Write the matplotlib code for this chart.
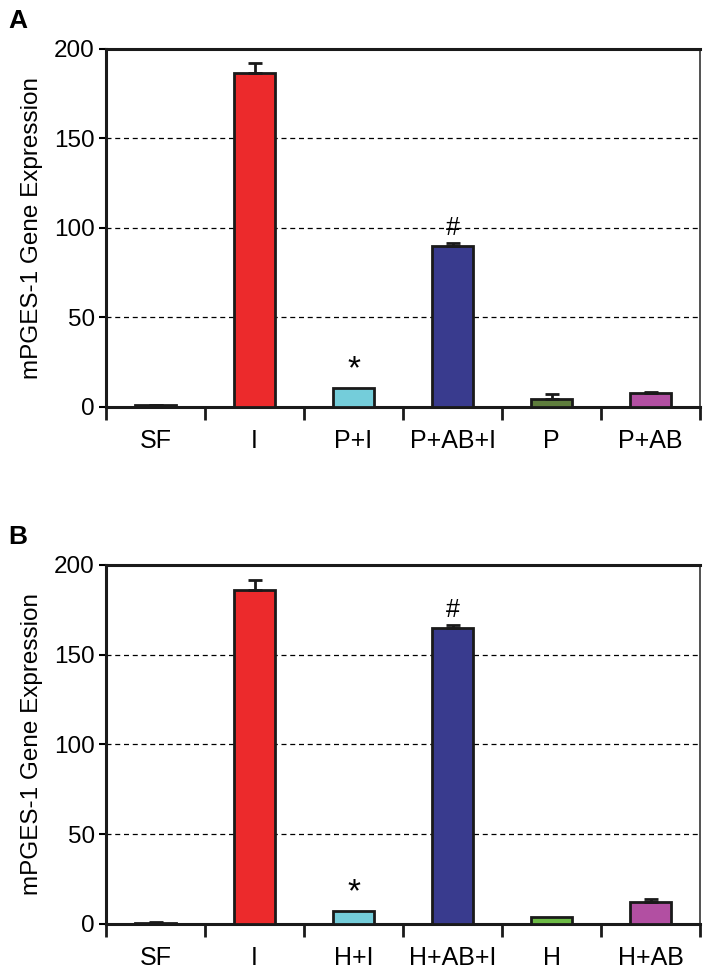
import numpy as np
import matplotlib.pyplot as plt

plt.rcParams['font.family'] = ['Liberation Sans', 'DejaVu Sans']

# data
labels_a = ['SF', 'I', 'P+I', 'P+AB+I', 'P', 'P+AB']
values_a = [1.0, 186.5, 10.5, 90.0, 4.5, 7.8]
errors_a = [0.3, 5.5, 0.0, 1.5, 2.5, 0.8]
marks_a = ['', '', '*', '#', '', '']

labels_b = ['SF', 'I', 'H+I', 'H+AB+I', 'H', 'H+AB']
values_b = [0.8, 186.0, 7.5, 165.0, 4.0, 12.5]
errors_b = [0.2, 5.5, 0.0, 1.5, 0.0, 1.4]
marks_b = ['', '', '*', '#', '', '']

colors_a = ['#555555', '#EC2A2C', '#74CDDA', '#393B8E', '#5E7D3C', '#B24FA2']
colors_b = ['#555555', '#EC2A2C', '#74CDDA', '#393B8E', '#6CBB45', '#B24FA2']

fig = plt.figure(figsize=(7.09, 9.76), dpi=100)
ax_a = fig.add_axes([0.1495, 0.583, 0.838, 0.367])
ax_b = fig.add_axes([0.1495, 0.0533, 0.838, 0.368])


def draw_panel(ax, labels, values, errors, marks, colors, letter):
    x = np.arange(len(labels))
    ax.bar(x, values, width=0.41, color=colors, edgecolor='#1a1a1a',
           linewidth=2, zorder=3)
    for xi, v, e in zip(x, values, errors):
        if e > 0:
            ax.errorbar(xi, v, yerr=[[0], [e]], fmt='none', ecolor='#1a1a1a',
                        elinewidth=2, capsize=5, capthick=2, zorder=4)
    for xi, v, e, m in zip(x, values, errors, marks):
        if m:
            ax.text(xi, v + e + 1.5, m, ha='center', va='bottom',
                    fontsize=24 if m == '*' else 18, zorder=5)
    ax.set_xlim(-0.5, len(labels) - 0.5)
    ax.set_ylim(0, 200)
    ax.set_yticks([0, 50, 100, 150, 200])
    ax.tick_params(axis='y', labelsize=17.5, length=5, width=1.5, pad=3)
    for y in [50, 100, 150]:
        ax.axhline(y, color='black', linestyle=(0, (4, 3)), linewidth=0.9,
                   zorder=1)
    # category labels without ticks, ticks at boundaries
    ax.set_xticks(x)
    ax.set_xticklabels(labels, fontsize=18)
    ax.tick_params(axis='x', length=0, pad=16)
    ax.set_xticks(np.arange(len(labels) + 1) - 0.5, minor=True)
    ax.tick_params(axis='x', which='minor', length=9, width=2,
                   direction='out', color='#1a1a1a')
    for s in ['left', 'bottom', 'top']:
        ax.spines[s].set_linewidth(2.2)
        ax.spines[s].set_color('#1a1a1a')
    ax.spines['right'].set_linewidth(1.3)
    ax.spines['right'].set_color('#444444')
    ax.set_ylabel('mPGES-1 Gene Expression', fontsize=17.5, labelpad=8)
    ax.text(-0.165, 1.11, letter, transform=ax.transAxes, fontsize=19,
            fontweight='bold', ha='left', va='top')


draw_panel(ax_a, labels_a, values_a, errors_a, marks_a, colors_a, 'A')
draw_panel(ax_b, labels_b, values_b, errors_b, marks_b, colors_b, 'B')

plt.savefig('out.png', dpi=100)
